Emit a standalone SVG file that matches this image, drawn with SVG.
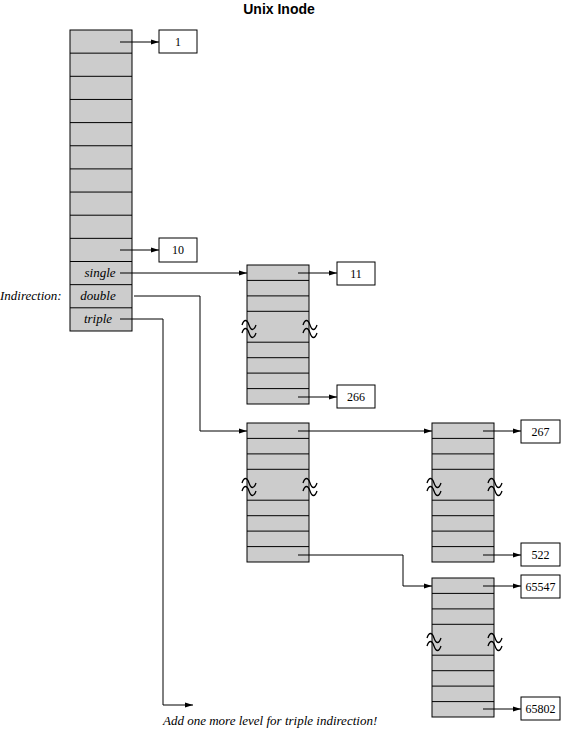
<svg xmlns="http://www.w3.org/2000/svg" width="562" height="731" viewBox="0 0 562 731">
<defs>
<style>
.blk{fill:#cccccc;stroke:#000;stroke-width:1}
.row{stroke:#000;stroke-width:1;fill:none}
.box{fill:#fff;stroke:#000;stroke-width:1}
.num{font-family:"Liberation Serif",serif;font-size:12px;text-anchor:middle;fill:#000}
.it{font-family:"Liberation Serif",serif;font-style:italic;font-size:13px;fill:#000}
.title{font-family:"Liberation Sans",sans-serif;font-weight:bold;font-size:14px;text-anchor:middle;fill:#000}
.con{stroke:#000;stroke-width:1;fill:none;marker-end:url(#ah)}
.sq{stroke:#000;stroke-width:1.3;fill:none}
</style>
<marker id="ah" markerWidth="8" markerHeight="6" refX="8" refY="3" orient="auto" markerUnits="userSpaceOnUse">
<path d="M0,0.5 L8,3 L0,5.5 Z" fill="#000"/>
</marker>
<g id="squig">
<path class="sq" d="M-7,-2 c2,-6 5,-6 7,0 s5,6 7,0"/>
<path class="sq" d="M-7,6 c2,-6 5,-6 7,0 s5,6 7,0"/>
</g>
</defs>

<text class="title" x="279" y="14">Unix Inode</text>

<g id="inode">
<rect class="blk" x="70" y="30" width="62" height="301"/>
<path class="row" d="M70,53.15H132M70,76.3H132M70,99.45H132M70,122.6H132M70,145.75H132M70,168.9H132M70,192.05H132M70,215.2H132M70,238.35H132M70,261.5H132M70,284.65H132M70,307.8H132"/>
<text class="it" x="100" y="277" text-anchor="middle">single</text>
<text class="it" x="98" y="300" text-anchor="middle">double</text>
<text class="it" x="98" y="323" text-anchor="middle">triple</text>
</g>
<text id="indirection" class="it" x="0" y="300">Indirection:</text>

<g id="box1"><rect class="box" x="159" y="30" width="38" height="23"/><text class="num" x="178" y="46">1</text></g>
<g id="box10"><rect class="box" x="159" y="238" width="38" height="24"/><text class="num" x="178" y="254">10</text></g>

<g id="single-block">
<rect class="blk" x="247" y="265" width="62" height="139"/>
<path class="row" d="M247,280.4H309M247,295.9H309M247,311.3H309M247,342.2H309M247,357.7H309M247,373.1H309M247,388.6H309"/>
<use href="#squig" x="249" y="327"/>
<use href="#squig" x="310" y="327"/>
</g>
<g id="box11"><rect class="box" x="337" y="262" width="38" height="23"/><text class="num" x="356" y="278">11</text></g>
<g id="box266"><rect class="box" x="337" y="385" width="38" height="23"/><text class="num" x="356" y="401">266</text></g>

<g id="double-block">
<rect class="blk" x="247" y="423" width="62" height="139"/>
<path class="row" d="M247,438.4H309M247,453.9H309M247,469.3H309M247,500.2H309M247,515.7H309M247,531.1H309M247,546.6H309"/>
<use href="#squig" x="249" y="485"/>
<use href="#squig" x="310" y="485"/>
</g>

<g id="right-block">
<rect class="blk" x="432" y="423" width="62" height="139"/>
<path class="row" d="M432,438.4H494M432,453.9H494M432,469.3H494M432,500.2H494M432,515.7H494M432,531.1H494M432,546.6H494"/>
<use href="#squig" x="434" y="485"/>
<use href="#squig" x="495" y="485"/>
</g>
<g id="box267"><rect class="box" x="521" y="420" width="39" height="23"/><text class="num" x="540.5" y="436">267</text></g>
<g id="box522"><rect class="box" x="521" y="543" width="39" height="23"/><text class="num" x="540.5" y="559">522</text></g>

<g id="bottom-block">
<rect class="blk" x="432" y="578" width="62" height="139"/>
<path class="row" d="M432,593.4H494M432,608.9H494M432,624.3H494M432,655.2H494M432,670.7H494M432,686.1H494M432,701.6H494"/>
<use href="#squig" x="434" y="640"/>
<use href="#squig" x="495" y="640"/>
</g>
<g id="box65547"><rect class="box" x="521" y="575" width="39" height="23"/><text class="num" x="540.5" y="591">65547</text></g>
<g id="box65802"><rect class="box" x="521" y="697" width="39" height="23"/><text class="num" x="540.5" y="713">65802</text></g>

<g id="connectors">
<path class="con" d="M120,42H159"/>
<path class="con" d="M120,250H159"/>
<path class="con" d="M120,273H247"/>
<path class="con" d="M134,296H200V431H247"/>
<path class="con" d="M120,319H163V705H193"/>
<path class="con" d="M298,273H337"/>
<path class="con" d="M298,397H337"/>
<path class="con" d="M298,431H432"/>
<path class="con" d="M298,555H403V586H432"/>
<path class="con" d="M483,431H521"/>
<path class="con" d="M483,555H521"/>
<path class="con" d="M483,586H521"/>
<path class="con" d="M483,709H521"/>
</g>

<text id="note" class="it" x="163" y="725">Add one more level for triple indirection!</text>
</svg>
